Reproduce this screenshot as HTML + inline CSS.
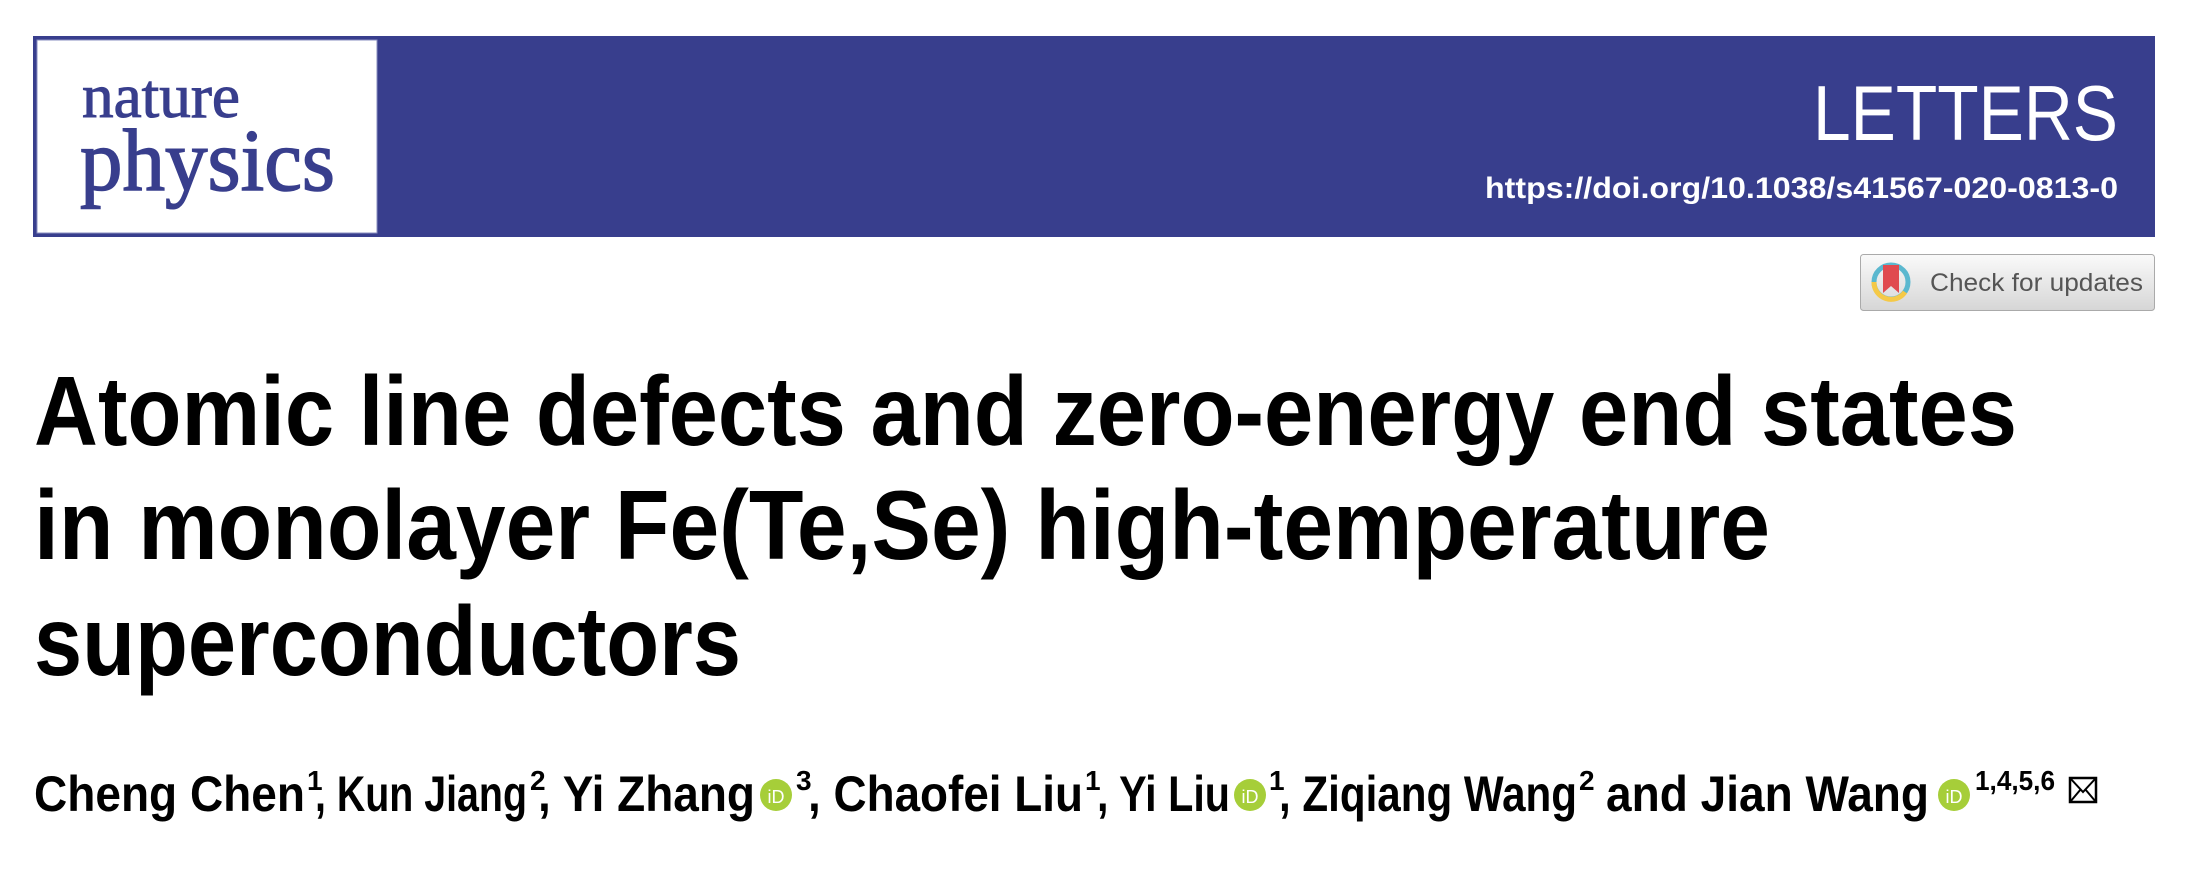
<!DOCTYPE html>
<html><head><meta charset="utf-8"><style>
html,body{margin:0;padding:0;background:#fff;width:2192px;height:870px;overflow:hidden}
svg{display:block}
</style></head><body>
<svg width="2192" height="870" viewBox="0 0 2192 870">
<g>
<rect x="33" y="36" width="2122" height="201" fill="#383E8D"/>
<rect x="37" y="40" width="340" height="193" fill="#fff" stroke="#8a8fc0" stroke-width="1"/>
<text x="82" y="117" font-family="Liberation Serif, serif" font-size="62" fill="#383E8D" stroke="#383E8D" stroke-width="1" textLength="158" lengthAdjust="spacingAndGlyphs">nature</text>
<text x="80" y="190" font-family="Liberation Serif, serif" font-size="88" fill="#383E8D" stroke="#383E8D" stroke-width="1.5" textLength="255" lengthAdjust="spacingAndGlyphs">physics</text>
<text x="2118" y="140" text-anchor="end" font-family="Liberation Sans, sans-serif" font-size="78" fill="#fff" textLength="305" lengthAdjust="spacingAndGlyphs">LETTERS</text>
<text x="2118" y="198" text-anchor="end" font-family="Liberation Sans, sans-serif" font-weight="bold" font-size="30" fill="#fff" textLength="633" lengthAdjust="spacingAndGlyphs">https://doi.org/10.1038/s41567-020-0813-0</text>
</g>
<defs><linearGradient id="btn" x1="0" y1="0" x2="0" y2="1"><stop offset="0" stop-color="#fafafa"/><stop offset="1" stop-color="#d6d6d6"/></linearGradient></defs>
<g>
<rect x="1860.5" y="254.5" width="294" height="56" rx="3" fill="url(#btn)" stroke="#aaa"/>
<circle cx="1891" cy="282" r="17" fill="none" stroke="#5bb8cf" stroke-width="5"/>
<path d="M1874 282 A17 17 0 0 0 1905 292" fill="none" stroke="#f5c947" stroke-width="5"/>
<path d="M1883 265 h16 v28 l-8 -7 l-8 7z" fill="#e04a4f"/>
<text x="1930" y="291" font-family="Liberation Sans, sans-serif" font-size="25" fill="#555" textLength="213" lengthAdjust="spacingAndGlyphs">Check for updates</text>
</g>
<g font-family="Liberation Sans, sans-serif" font-weight="bold" fill="#000">
<text x="34" y="445" font-size="98" textLength="1983" lengthAdjust="spacingAndGlyphs">Atomic line defects and zero-energy end states</text>
<text x="34" y="559" font-size="98" textLength="1736" lengthAdjust="spacingAndGlyphs">in monolayer Fe(Te,Se) high-temperature</text>
<text x="34" y="675" font-size="98" textLength="707" lengthAdjust="spacingAndGlyphs">superconductors</text>
</g>
<g font-family="Liberation Sans, sans-serif" font-weight="bold" fill="#000">
<text x="34" y="811" font-size="50" textLength="271" lengthAdjust="spacingAndGlyphs">Cheng Chen</text>
<text x="307" y="790" font-size="28">1</text>
<text x="315" y="811" font-size="50" textLength="212" lengthAdjust="spacingAndGlyphs">, Kun Jiang</text>
<text x="530" y="790" font-size="28">2</text>
<text x="538" y="811" font-size="50" textLength="217" lengthAdjust="spacingAndGlyphs">, Yi Zhang</text>
<circle cx="776" cy="795" r="16" fill="#A6CE39"/>
<text x="776" y="803" font-size="18" font-weight="normal" fill="#fff" text-anchor="middle">iD</text>
<text x="796" y="790" font-size="28">3</text>
<text x="808" y="811" font-size="50" textLength="275" lengthAdjust="spacingAndGlyphs">, Chaofei Liu</text>
<text x="1085" y="790" font-size="28">1</text>
<text x="1097" y="811" font-size="50" textLength="133" lengthAdjust="spacingAndGlyphs">, Yi Liu</text>
<circle cx="1250" cy="795" r="16" fill="#A6CE39"/>
<text x="1250" y="803" font-size="18" font-weight="normal" fill="#fff" text-anchor="middle">iD</text>
<text x="1269" y="790" font-size="28">1</text>
<text x="1279" y="811" font-size="50" textLength="298" lengthAdjust="spacingAndGlyphs">, Ziqiang Wang</text>
<text x="1579" y="790" font-size="28">2</text>
<text x="1606" y="811" font-size="50" textLength="323" lengthAdjust="spacingAndGlyphs">and Jian Wang</text>
<circle cx="1954" cy="795" r="16" fill="#A6CE39"/>
<text x="1954" y="803" font-size="18" font-weight="normal" fill="#fff" text-anchor="middle">iD</text>
<text x="1975" y="790" font-size="28" textLength="80" lengthAdjust="spacingAndGlyphs">1,4,5,6</text>
<g>
<rect x="2070" y="778" width="26" height="24" fill="none" stroke="#000" stroke-width="2.5"/>
<path d="M2070 778 L2083 792 L2096 778 M2070 802 L2081 789 M2096 802 L2085 789" fill="none" stroke="#000" stroke-width="2"/>
</g>
</g>
</svg>
</body></html>
